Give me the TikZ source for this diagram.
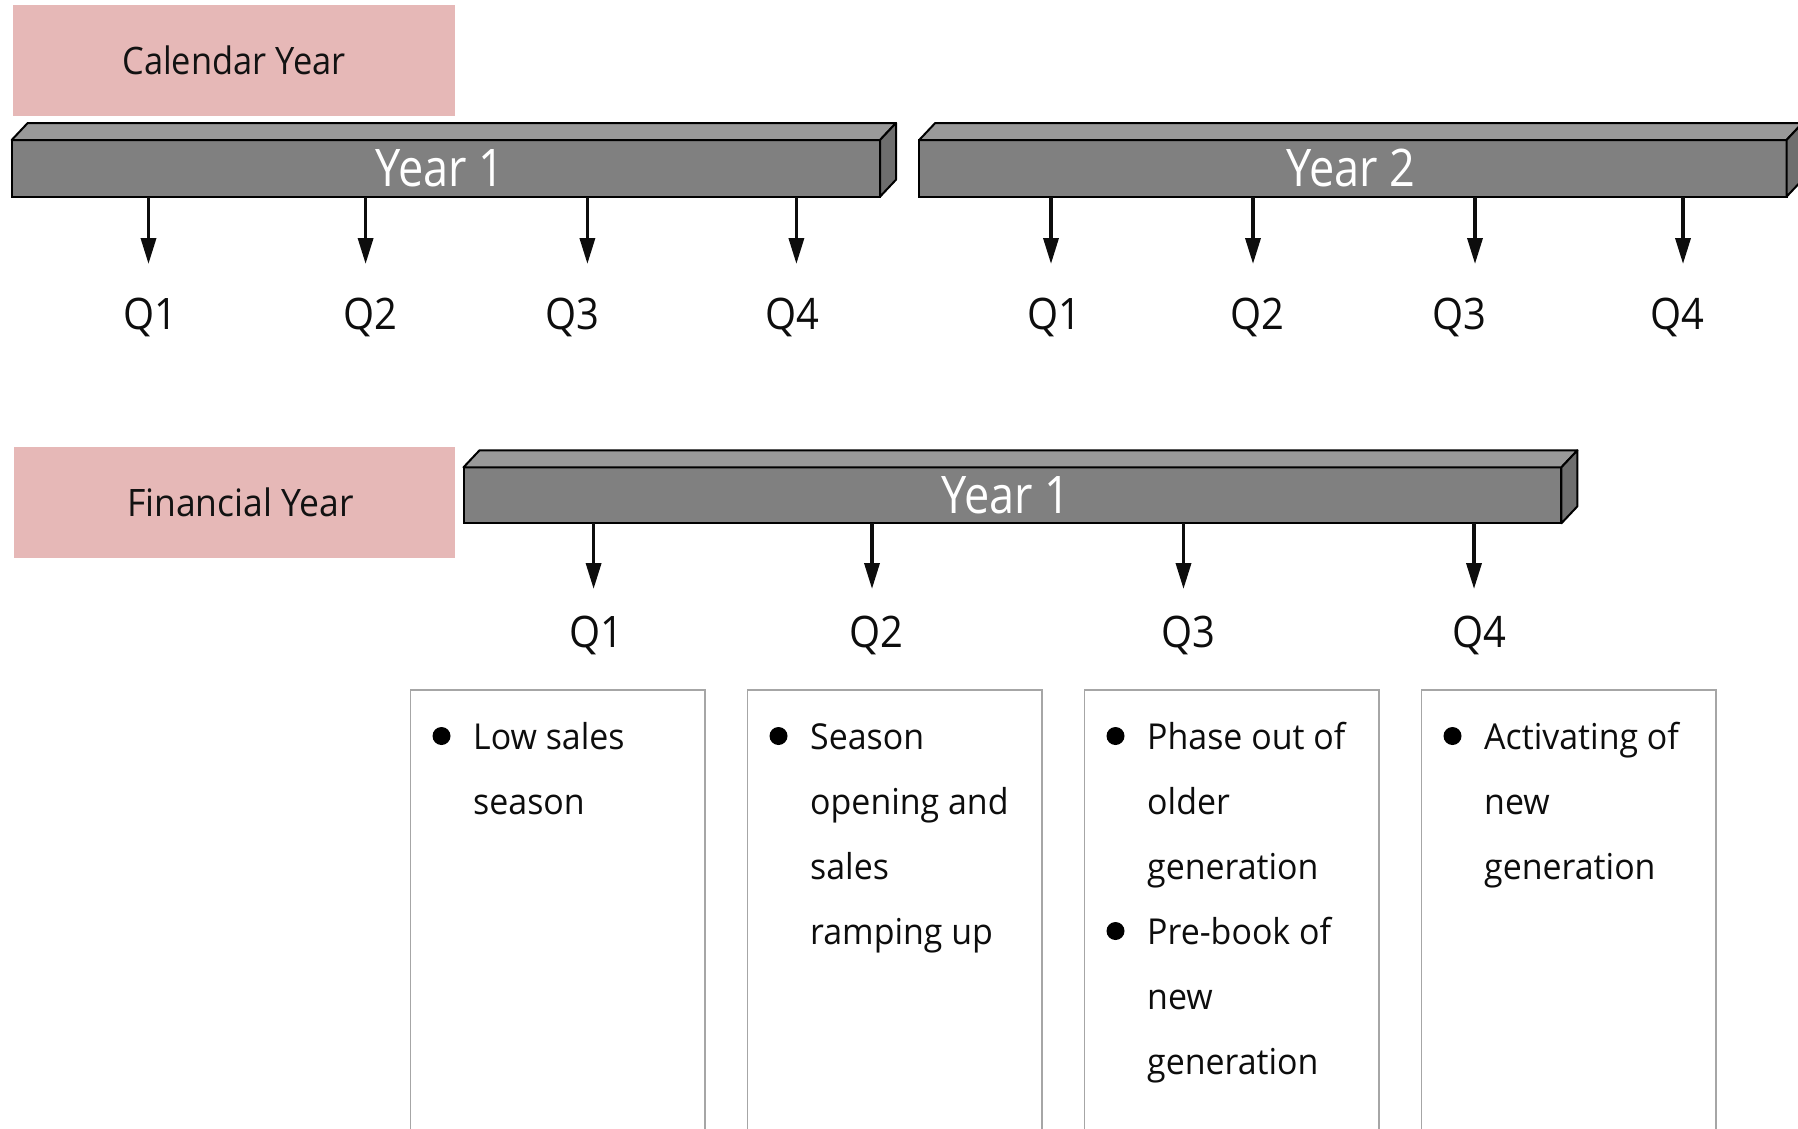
\documentclass[tikz,border=0pt]{standalone}
\usepackage{fontspec}
\usetikzlibrary{arrows.meta}
\setmainfont{Open Sans}
\newfontfamily\hdfont[FakeStretch=0.91]{Open Sans}
\newfontfamily\hdfontb[FakeStretch=0.94]{Open Sans}
\newfontfamily\yrfont[FakeStretch=0.87]{Open Sans}
\newfontfamily\qfont[FakeStretch=0.92]{Open Sans}
\newfontfamily\bdfont[FakeStretch=0.95]{Open Sans}
\definecolor{pinkfill}{HTML}{E6B8B7}
\definecolor{bartop}{HTML}{999999}
\definecolor{barfront}{HTML}{808080}
\definecolor{barside}{HTML}{6E6E6E}
\definecolor{boxline}{HTML}{A6A6A6}
\begin{document}
\begin{tikzpicture}[x=1pt,y=-1pt,
  pinkbox/.style={fill=pinkfill, draw=none, inner sep=0, outer sep=0, font=\hdfont\fontsize{37.8}{45}\selectfont, text=black!93},
  barface/.style={fill=barfront, draw=black, line width=2pt, inner sep=0, outer sep=0},
  bartopface/.style={fill=bartop, draw=black, line width=2pt, line join=round},
  barsideface/.style={fill=barside, draw=black, line width=2pt, line join=round},
  yearlab/.style={font=\yrfont\fontsize{51.8}{60}\selectfont, text=white, inner sep=0, anchor=base},
  qlab/.style={font=\qfont\fontsize{43.4}{50}\selectfont, text=black!95, inner sep=0, anchor=base},
  tick/.style={line width=3.5pt, draw=black!95, -{Triangle[width=15pt,length=26pt]}},
  qbox/.style={draw=boxline, line width=1.8pt, fill=white, inner sep=0, outer sep=0, minimum width=294.5pt, minimum height=460pt},
  bodytext/.style={font=\bdfont\fontsize{35.7}{42}\selectfont, text=black!95, inner sep=0, anchor=base west},
  bulletdot/.style={circle, fill=black, inner sep=0, minimum size=18pt},
]
\useasboundingbox (0,0) rectangle (1798,1128);
\clip (0,0) rectangle (1798,1128);

% ---------- Calendar year ----------
\node[pinkbox, minimum width=442pt, minimum height=111pt] (cal) at (234,60.5) {Calendar Year};

\node[barface, minimum width=868.3pt, minimum height=56.7pt] (bar1) at (445.85,168.35) {};
\draw[bartopface] (bar1.north west) -- ([shift={(16,-17)}]bar1.north west) -- ([shift={(16,-17)}]bar1.north east) -- (bar1.north east) -- cycle;
\draw[barsideface] (bar1.north east) -- ([shift={(16,-17)}]bar1.north east) -- ([shift={(16,-17)}]bar1.south east) -- (bar1.south east) -- cycle;
\node[yearlab] (y1lab) at (440,186) {Year 1};

\node[barface, minimum width=867.3pt, minimum height=56.7pt] (bar2) at (1352.85,168.35) {};
\draw[bartopface] (bar2.north west) -- ([shift={(16,-17)}]bar2.north west) -- ([shift={(16,-17)}]bar2.north east) -- (bar2.north east) -- cycle;
\draw[barsideface] (bar2.north east) -- ([shift={(16,-17)}]bar2.north east) -- ([shift={(16,-17)}]bar2.south east) -- (bar2.south east) -- cycle;
\node[yearlab] (y2lab) at (1351,186) {Year 2};

\foreach \x [count=\n] in {148.5,365.6,587.4,796.4} {
  \coordinate (ca\n) at (\x,264);
  \draw[tick] (ca\n |- bar1.south) -- (ca\n);
}
\foreach \x [count=\n] in {1051,1253,1475,1683} {
  \coordinate (cb\n) at (\x,264);
  \draw[tick] (cb\n |- bar2.south) -- (cb\n);
}
\node[qlab] (qa1) at (150.5,329) {Q1};
\node[qlab] (qa2) at (370,329) {Q2};
\node[qlab] (qa3) at (572,329) {Q3};
\node[qlab] (qa4) at (792,329) {Q4};
\node[qlab] (qb1) at (1054,329) {Q1};
\node[qlab] (qb2) at (1257,329) {Q2};
\node[qlab] (qb3) at (1459,329) {Q3};
\node[qlab] (qb4) at (1677,329) {Q4};

% ---------- Financial year ----------
\node[pinkbox, font=\hdfontb\fontsize{37.8}{45}\selectfont, minimum width=441.4pt, minimum height=110.5pt] (fin) at (234.5,502.5) {\hspace*{12pt}Financial Year};

\node[barface, minimum width=1097.9pt, minimum height=56pt] (fbar) at (1012.45,495.3) {};
\draw[bartopface] (fbar.north west) -- ([shift={(16,-17)}]fbar.north west) -- ([shift={(16,-17)}]fbar.north east) -- (fbar.north east) -- cycle;
\draw[barsideface] (fbar.north east) -- ([shift={(16,-17)}]fbar.north east) -- ([shift={(16,-17)}]fbar.south east) -- (fbar.south east) -- cycle;
\node[yearlab] (fylab) at (1006,513.5) {Year 1};

\foreach \x [count=\n] in {593.6,872,1183.5,1474} {
  \coordinate (cf\n) at (\x,589);
  \draw[tick] (cf\n |- fbar.south) -- (cf\n);
}
\node[qlab] (qf1) at (596,647.5) {Q1};
\node[qlab] (qf2) at (876,647.5) {Q2};
\node[qlab] (qf3) at (1188,647.5) {Q3};
\node[qlab] (qf4) at (1479,647.5) {Q4};

% ---------- Quarter boxes ----------
\node[qbox] (box1) at (557.75,920) {};
\node[qbox] (box2) at (894.75,920) {};
\node[qbox] (box3) at (1231.75,920) {};
\node[qbox] (box4) at (1568.75,920) {};

\node[bulletdot] (d1) at (441.5,736) {};
\node[bodytext] (t1a) at (473,749) {Low sales};
\node[bodytext] (t1b) at (473,814) {season};

\node[bulletdot] (d2) at (778.5,736) {};
\node[bodytext] (t2a) at (810,749) {Season};
\node[bodytext] (t2b) at (810,814) {opening and};
\node[bodytext] (t2c) at (810,879) {sales};
\node[bodytext] (t2d) at (810,944) {ramping up};

\node[bulletdot] (d3) at (1115.5,736) {};
\node[bodytext] (t3a) at (1147,749) {Phase out of};
\node[bodytext] (t3b) at (1147,814) {older};
\node[bodytext] (t3c) at (1147,879) {generation};
\node[bulletdot] (d3b) at (1115.5,931) {};
\node[bodytext] (t3d) at (1147,944) {Pre-book of};
\node[bodytext] (t3e) at (1147,1009) {new};
\node[bodytext] (t3f) at (1147,1074) {generation};

\node[bulletdot] (d4) at (1452.5,736) {};
\node[bodytext] (t4a) at (1484,749) {Activating of};
\node[bodytext] (t4b) at (1484,814) {new};
\node[bodytext] (t4c) at (1484,879) {generation};
\end{tikzpicture}
\end{document}
